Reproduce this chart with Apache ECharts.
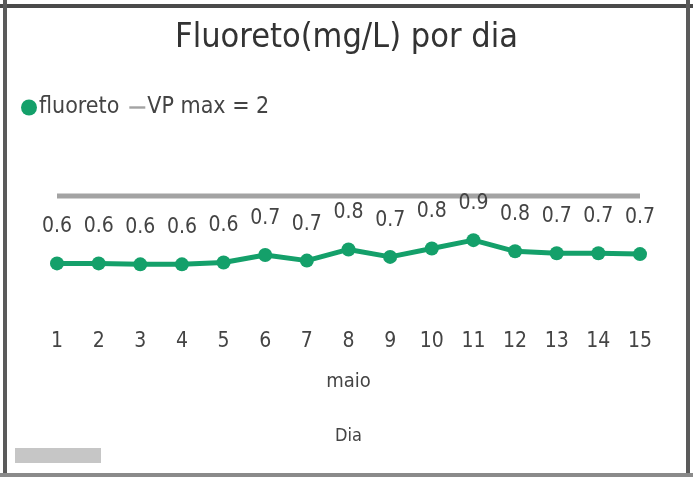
<!DOCTYPE html>
<html>
<head>
<meta charset="utf-8">
<script src="https://cdn.jsdelivr.net/npm/echarts@6/dist/echarts.min.js"></script>
<style>
html,body{margin:0;padding:0;background:#fff;}
#c{width:693px;height:477px;}
</style>
</head>
<body>
<div id="c"></div>
<script>
var days = ['1','2','3','4','5','6','7','8','9','10','11','12','13','14','15'];
var monthLabel = ['maio'];
var fluoreto = [0.63,0.63,0.62,0.62,0.64,0.72,0.66,0.78,0.70,0.79,0.88,0.76,0.74,0.74,0.73];
var vpMax = [2,2,2,2,2,2,2,2,2,2,2,2,2,2,2];

var FONT = "'DejaVu Sans Condensed','Liberation Sans Narrow','Roboto Condensed',Roboto,sans-serif";
var chart = echarts.init(document.getElementById('c'));
chart.setOption({
  animation: false,
  backgroundColor: '#fff',
  textStyle: {fontFamily: FONT},
  title: {
    text: 'Fluoreto(mg/L) por dia',
    left: 'center', top: 16,
    textStyle: {fontFamily: FONT, fontSize: 34, fontWeight: 'normal', color: '#333'}
  },
  legend: {
    left: 16, top: 91,
    itemGap: 10, itemWidth: 16, itemHeight: 16,
    textStyle: {fontFamily: FONT, fontSize: 23, color: '#444', padding: [0,0,0,-3]},
    data: [
      {name: 'fluoreto', icon: 'circle'},
      {name: 'VP max = 2', icon: 'path://M0,0h20v3h-20z'}
    ]
  },
  grid: {left: 57, right: 53, top: 136, bottom: 155},
  xAxis: [{
    type: 'category', data: days, boundaryGap: false,
    axisLine: {show: false}, axisTick: {show: false}, splitLine: {show: false},
    axisLabel: {fontFamily: FONT, fontSize: 21, color: '#444', margin: 9, interval: 0},
    name: 'Dia', nameLocation: 'middle', nameGap: 105,
    nameTextStyle: {fontFamily: FONT, fontSize: 18, color: '#444'}
  }, {
    type: 'category', data: monthLabel, position: 'bottom', offset: 40, boundaryGap: true,
    axisLine: {show: false}, axisTick: {show: false}, splitLine: {show: false},
    axisLabel: {fontFamily: FONT, fontSize: 20, color: '#444', margin: 10}
  }],
  yAxis: [
    {type: 'value', min: 0, max: 2, show: false},
    {type: 'value', min: 0, max: 2.952, show: false}
  ],
  series: [{
    name: 'fluoreto', type: 'line', data: fluoreto,
    xAxisIndex: 0, yAxisIndex: 0,
    symbol: 'circle', symbolSize: 14,
    lineStyle: {width: 5, color: '#14a06a'},
    itemStyle: {color: '#14a06a'},
    label: {
      show: true, position: 'top', distance: 19,
      fontFamily: FONT, fontSize: 21, color: '#444',
      formatter: function(p){ return p.value.toFixed(1); }
    },
    z: 3
  }, {
    name: 'VP max = 2', type: 'line', data: vpMax,
    xAxisIndex: 0, yAxisIndex: 1,
    symbol: 'none',
    lineStyle: {width: 5, color: '#a3a3a3'},
    itemStyle: {color: '#a3a3a3'},
    z: 2
  }],
  graphic: [
    {type: 'rect', shape: {x: 0, y: 4, width: 693, height: 4}, style: {fill: '#4a4a4a'}},
    {type: 'rect', shape: {x: 3, y: 0, width: 4, height: 477}, style: {fill: '#5a5a5a'}},
    {type: 'rect', shape: {x: 686, y: 0, width: 4, height: 477}, style: {fill: '#5a5a5a'}},
    {type: 'rect', shape: {x: 0, y: 473, width: 693, height: 4}, style: {fill: '#8a8a8a'}},
    {type: 'rect', shape: {x: 15, y: 448, width: 86, height: 15}, style: {fill: '#c6c6c6'}}
  ]
});
</script>
</body>
</html>
